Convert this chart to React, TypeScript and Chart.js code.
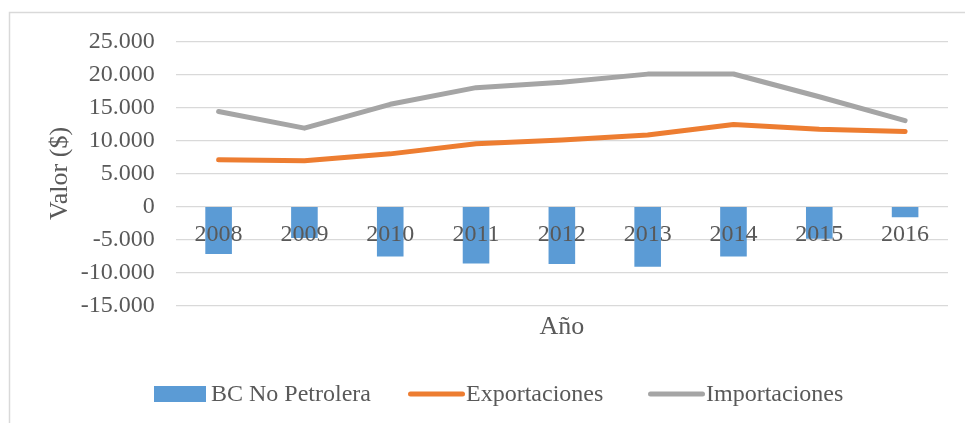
import React, { useEffect, useRef } from "react";
import { Chart, registerables } from "chart.js";

Chart.register(...registerables);

const years = ["2008", "2009", "2010", "2011", "2012", "2013", "2014", "2015", "2016"];
const bcNoPetrolera = [-7200, -4800, -7600, -8650, -8750, -9150, -7600, -4900, -1650];
const exportaciones = [7080, 6920, 7980, 9500, 10100, 10830, 12420, 11720, 11360];
const importaciones = [14400, 11880, 15500, 18030, 18850, 20080, 20100, 16650, 13030];
const yTickMin = -15000;
const yTickMax = 25000;
const yTickStep = 5000;

const FONT = '"Liberation Serif", "Times New Roman", serif';
const TEXT = "#595959";
const GRID = "#D9D9D9";

function fmt(v: number): string {
  const neg = v < 0;
  const s = Math.abs(Math.round(v)).toString().replace(/\B(?=(\d{3})+(?!\d))/g, ".");
  return (neg ? "-" : "") + s;
}

const borderPlugin = {
  id: "outerBorder",
  beforeDraw(chart: any) {
    const ctx = chart.ctx;
    ctx.save();
    ctx.strokeStyle = GRID;
    ctx.lineWidth = 1.5;
    ctx.beginPath();
    ctx.moveTo(9.5, chart.height);
    ctx.lineTo(9.5, 12.5);
    ctx.lineTo(chart.width, 12.5);
    ctx.stroke();
    ctx.restore();
  },
};

const legendX = [154, 408, 648];

const legendPlugin = {
  id: "customLegend",
  afterDraw(chart: any) {
    const ctx = chart.ctx;
    const y = 394;
    ctx.save();
    ctx.font = `24px ${FONT}`;
    ctx.textBaseline = "middle";
    ctx.textAlign = "left";
    chart.data.datasets.forEach((ds: any, i: number) => {
      const x = legendX[i];
      if (ds.type === "bar") {
        ctx.fillStyle = ds.backgroundColor;
        ctx.fillRect(x, y - 8, 52, 16);
        ctx.fillStyle = TEXT;
        ctx.fillText(ds.label, x + 57, y + 1);
      } else {
        ctx.strokeStyle = ds.borderColor;
        ctx.lineWidth = 5;
        ctx.lineCap = "round";
        ctx.beginPath();
        ctx.moveTo(x + 2.5, y);
        ctx.lineTo(x + 54.5, y);
        ctx.stroke();
        ctx.fillStyle = TEXT;
        ctx.fillText(ds.label, x + 58, y + 1);
      }
    });
    ctx.restore();
  },
};

export default function App() {
  const ref = useRef<HTMLCanvasElement | null>(null);
  useEffect(() => {
    document.body.style.margin = "0";
    if (!ref.current) return;
    const chart = new Chart(ref.current, {
      type: "bar",
      data: {
        labels: years,
        datasets: [
          {
            type: "bar",
            label: "BC No Petrolera",
            data: bcNoPetrolera,
            backgroundColor: "#5B9BD5",
            borderWidth: 0,
            barPercentage: 0.31,
            categoryPercentage: 1,
            order: 3,
          },
          {
            type: "line",
            label: "Exportaciones",
            data: exportaciones,
            borderColor: "#ED7D31",
            backgroundColor: "#ED7D31",
            borderWidth: 5,
            borderCapStyle: "round",
            borderJoinStyle: "round",
            pointRadius: 0,
            tension: 0,
            order: 2,
          },
          {
            type: "line",
            label: "Importaciones",
            data: importaciones,
            borderColor: "#A5A5A5",
            backgroundColor: "#A5A5A5",
            borderWidth: 5,
            borderCapStyle: "round",
            borderJoinStyle: "round",
            pointRadius: 0,
            tension: 0,
            order: 1,
          },
        ] as any,
      },
      options: {
        responsive: false,
        animation: false,
        devicePixelRatio: 1,
        layout: { padding: { top: 41.7, right: 17, bottom: 0, left: 0 } },
        plugins: {
          legend: { display: false },
          tooltip: { enabled: false },
        },
        scales: {
          y: {
            min: yTickMin,
            max: yTickMax,
            ticks: {
              stepSize: yTickStep,
              color: TEXT,
              font: { family: FONT, size: 24 },
              padding: 21,
              callback: (v: any) => fmt(Number(v)),
            },
            grid: { color: GRID, lineWidth: 1.3, drawTicks: false },
            border: { display: false },
            title: {
              display: true,
              text: "Valor ($)",
              color: TEXT,
              font: { family: FONT, size: 26 },
              padding: { top: 45, bottom: 0 },
            },
            afterFit: (scale: any) => {
              scale.width = 175.7;
            },
          },
          x: {
            position: { y: 0 } as any,
            offset: true,
            ticks: {
              color: TEXT,
              font: { family: FONT, size: 24 },
              padding: 14,
              z: 1,
              maxRotation: 0,
            } as any,
            grid: { display: false, drawTicks: false },
            border: { display: false },
          },
          x2: {
            type: "category",
            labels: years,
            position: "bottom",
            offset: true,
            ticks: { display: false },
            grid: { display: false, drawTicks: false },
            border: { display: false },
            title: {
              display: true,
              text: "Año",
              color: TEXT,
              font: { family: FONT, size: 26 },
              padding: { top: 0, bottom: 80 },
            },
            afterFit: (scale: any) => {
              scale.height = 117.7;
            },
          } as any,
        },
      },
      plugins: [borderPlugin, legendPlugin],
    });
    return () => chart.destroy();
  }, []);
  return (
    <div style={{ width: 965, height: 423 }}>
      <canvas ref={ref} width={965} height={423} style={{ display: "block" }} />
    </div>
  );
}
